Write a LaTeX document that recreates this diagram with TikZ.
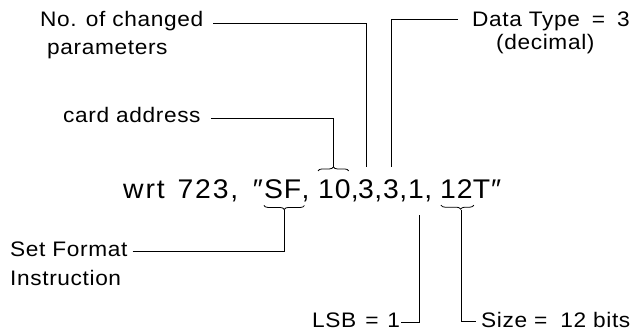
\documentclass[tikz,border=0pt]{standalone}
\usepackage{fontspec}
\setmainfont{Liberation Sans}[LetterSpace=3,FakeStretch=1.08]
\newfontfamily\bigfont{Liberation Sans}[LetterSpace=3,FakeStretch=1.05]
\newfontfamily\widefont{Liberation Sans}[LetterSpace=7,FakeStretch=1.05]
\usetikzlibrary{decorations.pathreplacing}
\begin{document}
\begin{tikzpicture}[x=1pt,y=-1pt,
  lbl/.style={font=\fontsize{21}{23}\selectfont, inner sep=0pt, anchor=base west},
  part/.style={font=\bigfont\fontsize{27}{30}\selectfont, inner sep=0pt, anchor=base west},
  conn/.style={line width=0.9pt},
  brc/.style={decorate, decoration={brace, amplitude=4pt}, line width=0.8pt}]
\useasboundingbox (0,0) rectangle (639,331);

% labels
\node[lbl] (nochg)  at (40,27)   {No. of changed};
\node[lbl] (params) at (47,55)   {parameters};
\node[lbl] (card)   at (63,123)  {card address};
\node[lbl] (dtype)  at (472,27)  {Data Type\hspace{5pt} = \hspace{5pt}3};
\node[lbl] (decim)  at (496,50)  {(decimal)};
\node[lbl] (setf)   at (10,256)  {Set Format};
\node[lbl] (instr)  at (10,285)  {Instruction};
\node[lbl] (lsb)    at (312,327) {LSB\hspace{2pt} = \hspace{2pt}1};
\node[lbl] (size)   at (481,327) {Size = \hspace{6pt}12 bits};

% main command line
\node[part,font=\widefont\fontsize{27}{30}\selectfont] (w) at (123,198) {wrt\hspace{3pt} 723,};
\node[part] (sf)  at (264,198) {SF};
\node[part,anchor=base east] (q1) at ([xshift=-1pt]sf.base west) {″};
\node[part] (c1)  at (sf.base east) {,};
\node[part] (ten) at (318,198) {10};
\node[part] (c2)  at (ten.base east) {,};
\node[part] (t1)  at (358,198) {3};
\node[part] (c3)  at (t1.base east) {,};
\node[part] (t2)  at (383,198) {3};
\node[part] (c4)  at (t2.base east) {,};
\node[part] (one) at (408,198) {1};
\node[part] (c5)  at (one.base east) {,};
\node[part] (tw)  at (440,198) {12};
\node[part] (tq)  at (tw.base east) {T″};

% braces
\draw[brc] ([xshift=3pt,yshift=-7pt]sf.south east) -- ([yshift=-7pt]sf.south west);
\coordinate (sftip) at ([xshift=1.5pt,yshift=-11.5pt]sf.south);
\draw[brc] ([yshift=8pt]ten.north west) -- ([xshift=-2pt,yshift=8pt]ten.north east);
\coordinate (tentip) at ([xshift=-1pt,yshift=12pt]ten.north);
\draw[brc,decoration={aspect=0.4}] ([xshift=1pt,yshift=-7pt]tw.south east) -- ([xshift=1pt,yshift=-7pt]tw.south west);
\coordinate (twtip) at ([xshift=5pt,yshift=-11.5pt]tw.south);

% connectors
\draw[conn] ([xshift=10pt,yshift=4pt]nochg.base east) -| ([yshift=12pt]t1.north);
\draw[conn] ([xshift=-14pt,yshift=8pt]dtype.base west) -| ([yshift=12pt]t2.north);
\draw[conn] ([xshift=10pt,yshift=5pt]card.base east) -| (tentip);
\draw[conn] ([xshift=5pt,yshift=5pt]setf.base east) -| (sftip);
\draw[conn] ([xshift=3pt,yshift=-17pt]one.south) |- ([xshift=1pt,yshift=5pt]lsb.base east);
\draw[conn] (twtip) |- ([xshift=-5pt,yshift=6pt]size.base west);
\end{tikzpicture}
\end{document}
